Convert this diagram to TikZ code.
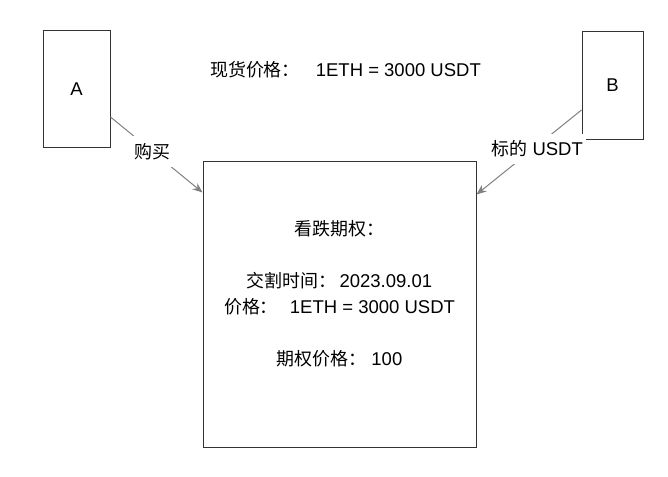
\documentclass[tikz,border=0pt]{standalone}
\usepackage{fontspec}
\setmainfont{Liberation Sans}
\newfontfamily\cjk[Scale=0.97]{Noto Sans CJK SC}
\newcommand{\zh}[1]{{\cjk #1}}
\usepackage{tikz}
\usetikzlibrary{arrows.meta, positioning}

\begin{document}
\begin{tikzpicture}[
      x=1pt, y=-1pt,
      font=\fontsize{18.5}{26}\selectfont,
      party/.style={
          rectangle,
          draw=black!80,
          line width=1pt,
          inner sep=0pt
        },
      option/.style={
          rectangle,
          draw=black!80,
          line width=1pt,
          minimum width=273pt,
          minimum height=286pt
        },
      info/.style={
          align=center,
          inner sep=0pt
        },
      flow/.style={
          -{Stealth[length=10pt,width=8pt]},
          draw=black!50,
          line width=1pt
        },
      flowlabel/.style={
          fill=white,
          inner xsep=3pt,
          inner ysep=7pt
        }
    ]
    \useasboundingbox (0,0) rectangle (668,476);

    % Nodes
    \node[party, minimum width=67pt, minimum height=116pt] (A) at (76.5,89) {A};
    \node[party, minimum width=61pt, minimum height=107pt] (B) at (612.5,85.5) {B};
    \node[info] (spot) at (345.5,70) {\zh{现货价格：}\hspace{16pt}1ETH = 3000 USDT};
    \node[option] (put) at (339.5,304) {};
    \node[info] (putinfo) at (339.5,294) {%
        \zh{看跌期权：}\\[26pt]
        \zh{交割时间：}\hspace{3pt}2023.09.01\\
        \zh{价格：}\hspace{12pt}1ETH = 3000 USDT\\[26pt]
        \zh{期权价格：}\hspace{5pt}100};

    % Arrows
    \draw[flow] ([yshift=-28pt]A.east) -- node[flowlabel, pos=0.46] (buy) {\zh{购买}} ([yshift=-32pt]put.north west);
    \draw[flow] ([yshift=-24.5pt]B.west) -- node[flowlabel, pos=0.46, xshift=4pt] (asset) {\zh{标的} USDT} ([yshift=-34pt]put.north east);

  \end{tikzpicture}
\end{document}
